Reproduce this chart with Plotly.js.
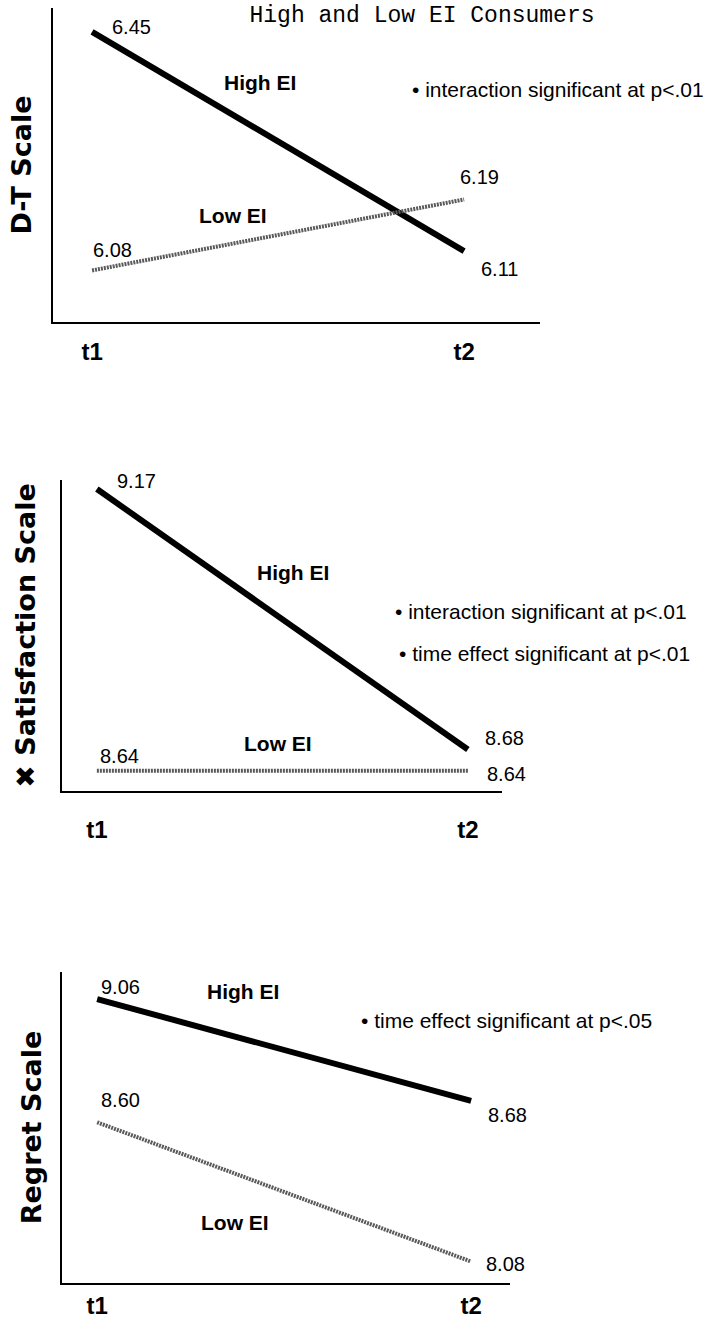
<!DOCTYPE html>
<html>
<head>
<meta charset="utf-8">
<script src="https://cdn.plot.ly/plotly-3.0.1.min.js"></script>
<style>html,body{margin:0;padding:0;background:#fff}#chart{width:722px;height:1318px}</style>
</head>
<body>
<div id="chart"></div>
<script>
// ---- data ----
const timepoints = ['t1', 't2'];
const dtHigh  = [6.45, 6.11];
const dtLow   = [6.08, 6.19];
const satHigh = [9.17, 8.68];
const satLow  = [8.64, 8.64];
const regHigh = [9.06, 8.68];
const regLow  = [8.60, 8.08];
const seriesNames = ['High EI', 'Low EI'];
const panelTitles = ['D-T Scale', '\u2716 Satisfaction Scale', 'Regret Scale'];
const chartTitle = 'High and Low EI Consumers';
const notes1 = ['\u2022 interaction significant at p<.01'];
const notes2 = ['\u2022 interaction significant at p<.01', '\u2022 time effect significant at p<.01'];
const notes3 = ['\u2022 time effect significant at p<.05'];

// ---- styling ----
const W = 722, H = 1318;
const px = v => v / W;
const py = v => 1 - v / H;
const numFont = {family: 'Liberation Sans, Arial, sans-serif', size: 20, color: '#000'};
const boldFont = {family: 'Liberation Sans, Arial, sans-serif', size: 21, color: '#000', weight: 'bold'};
const noteFont = {family: 'Liberation Sans, Arial, sans-serif', size: 21, color: '#000'};
const highLine = {color: '#000', width: 6};
const lowLine = {color: '#5a5a5a', width: 4, dash: '2px,1px'};

const panels = [
  {hi: dtHigh, lo: dtLow, xa: 'x', ya: 'y',
   hiOff: [[39, 5], [35, -18]], loOff: [[20, 20], [15, 22]],
   hiLab: [260, 82], loLab: [233, 215], notes: notes1, notePos: [[558, 89]]},
  {hi: satHigh, lo: satLow, xa: 'x2', ya: 'y2',
   hiOff: [[40, 8], [37, 12]], loOff: [[23, 15], [39, -3]],
   hiLab: [293, 572], loLab: [278, 743], notes: notes2, notePos: [[541, 611], [544, 653]]},
  {hi: regHigh, lo: regLow, xa: 'x3', ya: 'y3',
   hiOff: [[23, 12], [36, -14]], loOff: [[23, 22], [34, -2]],
   hiLab: [243, 991], loLab: [235, 1222], notes: notes3, notePos: [[506, 1020]]}
];

const traces = [];
const annotations = [];
const centered = {showarrow: false, xanchor: 'center', yanchor: 'middle'};
panels.forEach(p => {
  traces.push({x: timepoints, y: p.hi, xaxis: p.xa, yaxis: p.ya, type: 'scatter', mode: 'lines',
               name: seriesNames[0], line: highLine, showlegend: false, hoverinfo: 'skip'});
  traces.push({x: timepoints, y: p.lo, xaxis: p.xa, yaxis: p.ya, type: 'scatter', mode: 'lines',
               name: seriesNames[1], line: lowLine, showlegend: false, hoverinfo: 'skip'});
  [[p.hi, p.hiOff], [p.lo, p.loOff]].forEach(([vals, offs]) => {
    vals.forEach((v, i) => {
      annotations.push(Object.assign({x: timepoints[i], y: v, xref: p.xa, yref: p.ya, text: v.toFixed(2),
        xshift: offs[i][0], yshift: offs[i][1], font: numFont}, centered));
    });
  });
  annotations.push(Object.assign({x: px(p.hiLab[0]), y: py(p.hiLab[1]), xref: 'paper', yref: 'paper',
    text: seriesNames[0], font: boldFont}, centered));
  annotations.push(Object.assign({x: px(p.loLab[0]), y: py(p.loLab[1]), xref: 'paper', yref: 'paper',
    text: seriesNames[1], font: boldFont}, centered));
  p.notes.forEach((t, i) => {
    annotations.push(Object.assign({x: px(p.notePos[i][0]), y: py(p.notePos[i][1]), xref: 'paper', yref: 'paper',
      text: t, font: noteFont}, centered));
  });
});

const xCommon = {type: 'category', showline: true, linecolor: '#000', linewidth: 2, mirror: false,
  showgrid: false, zeroline: false, ticks: '', fixedrange: true,
  tickfont: {family: 'Liberation Sans, Arial, sans-serif', size: 24, color: '#000', weight: 'bold'}};
const yCommon = {showline: true, linecolor: '#000', linewidth: 2, mirror: false, showgrid: false,
  zeroline: false, ticks: '', showticklabels: false, fixedrange: true};
const yTitleFont = {family: 'DejaVu Sans, sans-serif', size: 27, color: '#000', weight: 'bold'};

const layout = {
  width: W, height: H,
  margin: {l: 0, r: 0, t: 0, b: 0},
  paper_bgcolor: '#fff', plot_bgcolor: '#fff',
  showlegend: false,
  title: {text: chartTitle, x: px(422), xanchor: 'center', y: py(14), yanchor: 'middle',
          yref: 'container', xref: 'container',
          font: {family: 'Liberation Mono, Courier New, monospace', size: 23, color: '#000'}},
  xaxis:  Object.assign({}, xCommon, {domain: [px(53), px(540)], range: [-0.105, 1.204], anchor: 'y', ticklabelstandoff: 7}),
  yaxis:  Object.assign({}, yCommon, {domain: [py(322), py(8)], range: [6.0, 6.487], anchor: 'x',
          title: {text: panelTitles[0], font: yTitleFont, standoff: 12}}),
  xaxis2: Object.assign({}, xCommon, {domain: [px(62), px(502)], range: [-0.094, 1.092], anchor: 'y2', ticklabelstandoff: 16}),
  yaxis2: Object.assign({}, yCommon, {domain: [py(791), py(480)], range: [8.602, 9.187], anchor: 'x2',
          title: {text: panelTitles[1], font: yTitleFont, standoff: 17}}),
  xaxis3: Object.assign({}, xCommon, {domain: [px(62), px(510)], range: [-0.094, 1.104], anchor: 'y3', ticklabelstandoff: 0}),
  yaxis3: Object.assign({}, yCommon, {domain: [py(1283), py(972)], range: [8.0, 9.161], anchor: 'x3',
          title: {text: panelTitles[2], font: yTitleFont, standoff: 11}}),
  annotations: annotations
};

Plotly.newPlot('chart', traces, layout, {displayModeBar: false, staticPlot: true});
</script>
</body>
</html>
